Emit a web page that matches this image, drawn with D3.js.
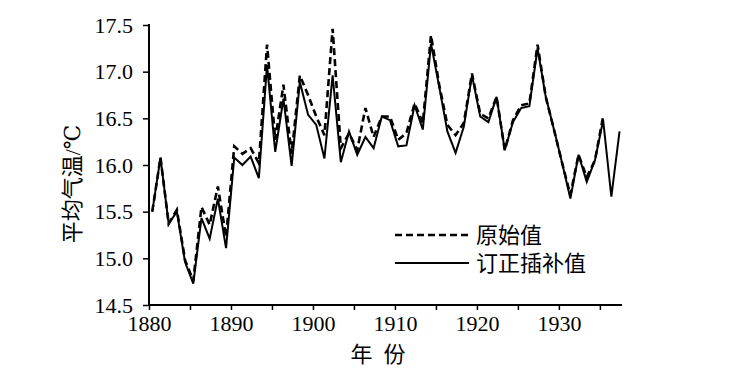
<!DOCTYPE html>
<html><head><meta charset="utf-8">
<script src="https://cdn.jsdelivr.net/npm/d3@7"></script>
<style>
html,body{margin:0;padding:0;background:#fff;}
</style></head><body>
<svg id="c" width="731" height="369"></svg>
<script>
const years = d3.range(1880, 1938);
const original = [15.5,16.08,15.37,15.52,14.98,14.76,15.55,15.36,15.77,15.23,
  16.2,16.12,16.18,16.02,17.29,16.27,16.86,16.12,16.96,16.75,
  16.52,16.32,17.46,16.18,16.34,16.16,16.61,16.3,16.52,16.52,
  16.27,16.34,16.66,16.45,17.39,16.86,16.43,16.32,16.45,16.98,
  16.55,16.5,16.73,16.16,16.48,16.64,16.66,17.29,16.73,16.38,
  16.02,15.68,16.11,15.87,16.05,16.52,null,null];
const corrected = [15.5,16.08,15.37,15.5,14.96,14.73,15.43,15.21,15.64,15.11,
  16.08,16.0,16.09,15.86,17.07,16.14,16.71,15.99,16.89,16.54,
  16.43,16.07,16.96,16.03,16.36,16.11,16.3,16.18,16.52,16.48,
  16.2,16.21,16.64,16.38,17.3,16.84,16.36,16.13,16.41,16.96,
  16.52,16.46,16.73,16.16,16.46,16.61,16.63,17.25,16.73,16.38,
  16.02,15.64,16.11,15.82,16.05,16.48,15.66,16.36];
const yTicks = [14.5,15.0,15.5,16.0,16.5,17.0,17.5];
const xTicks = d3.range(1880, 1940, 5);
const xLabels = [1880,1890,1900,1910,1920,1930];
const legendNames = ["原始值","订正插补值"];
const yTitle = "平均气温/℃";
const xTitle = "年  份";

const FONT = "Liberation Serif, DejaVu Serif, Noto Sans CJK SC, serif";
const svg = d3.select("#c");
const x = d3.scaleLinear().domain([1880, 1937.7]).range([149, 622]);
const y = d3.scaleLinear().domain([14.5, 17.5]).range([305, 25]);
const xOff = 0.4;

// x axis
const xa = svg.append("g").attr("transform","translate(0,305)")
  .call(d3.axisBottom(x).tickValues(xTicks).tickSize(5).tickPadding(5)
    .tickFormat(d => xLabels.includes(d) ? String(d) : ""));
xa.attr("font-family", FONT).attr("font-size", 22);
xa.select(".domain").attr("stroke","#000").attr("stroke-width",2).attr("d","M148,0H622");
xa.selectAll(".tick line").attr("stroke","#000").attr("stroke-width",1.5);
xa.selectAll(".tick text").attr("font-family",FONT).attr("fill","#000");

// y axis
const ya = svg.append("g").attr("transform","translate(149,0)")
  .call(d3.axisLeft(y).tickValues(yTicks).tickSize(6).tickPadding(10).tickFormat(d3.format(".1f")));
ya.attr("font-family", FONT).attr("font-size", 22);
ya.select(".domain").attr("stroke","#000").attr("stroke-width",2).attr("d","M0,24V306");
ya.selectAll(".tick line").attr("stroke","#000").attr("stroke-width",1.5);
ya.selectAll(".tick text").attr("font-family",FONT).attr("fill","#000");

const line = d3.line()
  .defined(d => d[1] != null)
  .x(d => x(d[0] + xOff)).y(d => y(d[1]));

svg.append("path").datum(years.map((yr,i)=>[yr, corrected[i]]))
  .attr("d", line).attr("fill","none").attr("stroke","#000").attr("stroke-width",2)
  .attr("stroke-linejoin","miter");
svg.append("path").datum(years.map((yr,i)=>[yr, original[i]]))
  .attr("d", line).attr("fill","none").attr("stroke","#000").attr("stroke-width",2.6)
  .attr("stroke-dasharray","7,4");

// legend
const lg = svg.append("g");
[[235,"7,4",2.6],[263,null,2]].forEach((s,i)=>{
  lg.append("line").attr("x1",395).attr("x2",469).attr("y1",s[0]).attr("y2",s[0])
    .attr("stroke","#000").attr("stroke-width",s[2]).attr("stroke-dasharray",s[1]);
  lg.append("text").attr("x",476).attr("y",s[0]).attr("dy","0.36em")
    .attr("font-family",FONT).attr("font-size",22).text(legendNames[i]);
});

// titles
svg.append("text").attr("transform","translate(80,184) rotate(-90)")
  .attr("text-anchor","middle").attr("font-family",FONT).attr("font-size",22).text(yTitle);
svg.append("text").attr("x",378).attr("y",362).attr("text-anchor","middle")
  .attr("font-family",FONT).attr("font-size",22).style("white-space","pre").text(xTitle);
</script>
</body></html>
